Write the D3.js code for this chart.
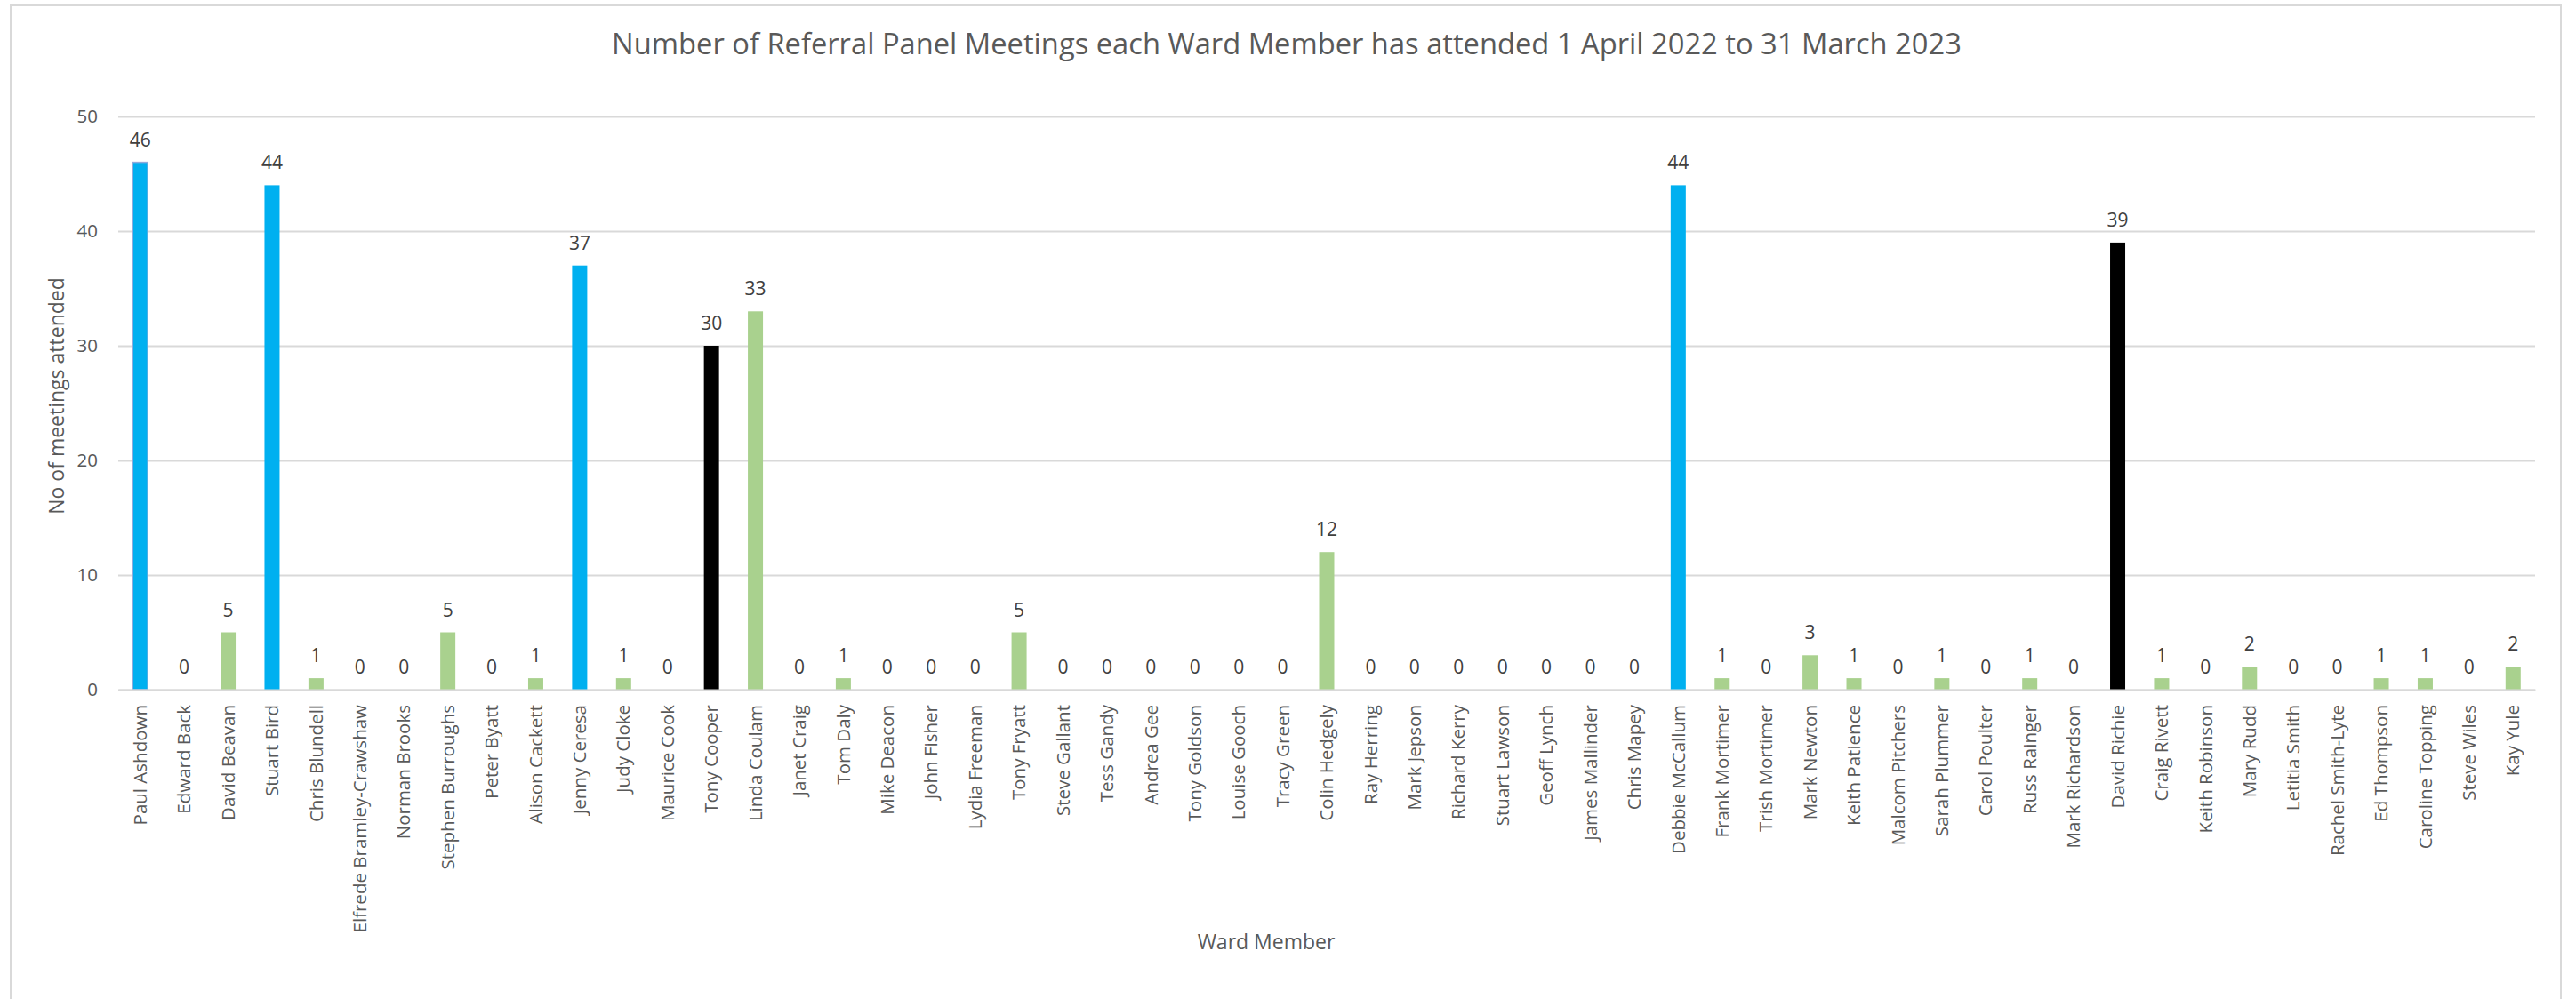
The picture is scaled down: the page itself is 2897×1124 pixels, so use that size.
<!DOCTYPE html>
<html>
<head>
<meta charset="utf-8">
<script src="https://cdn.jsdelivr.net/npm/d3@7"></script>
<style>
  body { margin: 0; background: #fff; }
  svg text { font-family: "Open Sans", "Noto Sans", sans-serif; }
</style>
</head>
<body>
<div class="chart"></div>
<script>
// --- Data ---
const members = [
    "Paul Ashdown", "Edward Back", "David Beavan", "Stuart Bird", "Chris Blundell",
    "Elfrede Bramley-Crawshaw", "Norman Brooks", "Stephen Burroughs", "Peter Byatt",
    "Alison Cackett", "Jenny Ceresa", "Judy Cloke", "Maurice Cook", "Tony Cooper",
    "Linda Coulam", "Janet Craig", "Tom Daly", "Mike Deacon", "John Fisher",
    "Lydia Freeman", "Tony Fryatt", "Steve Gallant", "Tess Gandy", "Andrea Gee",
    "Tony Goldson", "Louise Gooch", "Tracy Green", "Colin Hedgely", "Ray Herring",
    "Mark Jepson", "Richard Kerry", "Stuart Lawson", "Geoff Lynch", "James Mallinder",
    "Chris Mapey", "Debbie McCallum", "Frank Mortimer", "Trish Mortimer", "Mark Newton",
    "Keith Patience", "Malcom Pitchers", "Sarah Plummer", "Carol Poulter", "Russ Rainger",
    "Mark Richardson", "David Richie", "Craig Rivett", "Keith Robinson", "Mary Rudd",
    "Letitia Smith", "Rachel Smith-Lyte", "Ed Thompson", "Caroline Topping",
    "Steve Wiles", "Kay Yule"
];

const meetings = [
    46, 0, 5, 44, 1,
    0, 0, 5, 0,
    1, 37, 1, 0, 30,
    33, 0, 1, 0, 0,
    0, 5, 0, 0, 0,
    0, 0, 0, 12, 0,
    0, 0, 0, 0, 0,
    0, 44, 1, 0, 3,
    1, 0, 1, 0, 1,
    0, 39, 1, 0, 2,
    0, 0, 1, 1,
    0, 2
];

// which colour group each bar belongs to
const barGroup = [
    "blue", "green", "green", "blue", "green",
    "green", "green", "green", "green",
    "green", "blue", "green", "green", "black",
    "green", "green", "green", "green", "green",
    "green", "green", "green", "green", "green",
    "green", "green", "green", "green", "green",
    "green", "green", "green", "green", "green",
    "green", "blue", "green", "green", "green",
    "green", "green", "green", "green", "green",
    "green", "black", "green", "green", "green",
    "green", "green", "green", "green",
    "green", "green"
];

const yTicks = [0, 10, 20, 30, 40, 50];

const chartTitle = "Number of Referral Panel Meetings each Ward Member has attended 1 April 2022 to 31 March 2023";
const xTitle = "Ward Member";
const yTitle = "No of meetings attended";

const groupColors = { blue: "#00B0F0", green: "#A9D18E", black: "#000000" };

const drawChart = () => {
    // --- Dimensions ---
    const viewW = 2897;
    const viewH = 1124;
    const plot = { left: 133, right: 2851, top: 131, bottom: 776 };

    const data = members.map((name, i) => ({ name, value: meetings[i], group: barGroup[i] }));

    const svg = d3.select(".chart")
        .append("svg")
        .attr("width", viewW)
        .attr("height", viewH)
        .attr("viewBox", `0 0 ${viewW} ${viewH}`);

    // chart area border
    svg.append("rect")
        .attr("x", 12)
        .attr("y", 6)
        .attr("width", 2880 - 12)
        .attr("height", 1140)
        .attr("fill", "#fff")
        .attr("stroke", "#d9d9d9")
        .attr("stroke-width", 2);

    // Scales
    const x = d3.scaleBand()
        .domain(members)
        .range([plot.left, plot.right])
        .paddingInner(0.656)
        .paddingOuter(0.328);

    const y = d3.scaleLinear()
        .domain([0, 50])
        .range([plot.bottom, plot.top]);

    // Gridlines + y labels
    const yAxis = svg.append("g")
        .attr("transform", `translate(${plot.left},0)`)
        .call(d3.axisLeft(y)
            .tickValues(yTicks)
            .tickSize(-(plot.right - plot.left))
            .tickPadding(23));

    yAxis.select(".domain").remove();
    yAxis.selectAll(".tick line")
        .attr("stroke", "#d9d9d9")
        .attr("stroke-width", 2);
    yAxis.selectAll(".tick text")
        .attr("fill", "#595959")
        .style("font-size", "20.5px");

    // Bars
    svg.selectAll("rect.bar")
        .data(data)
        .enter()
        .append("rect")
        .attr("class", "bar")
        .attr("x", d => x(d.name))
        .attr("y", d => y(d.value))
        .attr("width", x.bandwidth())
        .attr("height", d => y(0) - y(d.value))
        .attr("fill", d => groupColors[d.group]);

    // first bar shows a faint outline in the original
    svg.selectAll("rect.bar")
        .filter((d, i) => i === 0)
        .attr("stroke", "#8FAADC")
        .attr("stroke-width", 1.5);

    // X axis
    const xAxis = svg.append("g")
        .attr("transform", `translate(0,${plot.bottom})`)
        .call(d3.axisBottom(x).tickSize(0).tickSizeOuter(0));

    xAxis.select(".domain")
        .attr("stroke", "#d9d9d9")
        .attr("stroke-width", 2);

    xAxis.selectAll(".tick text")
        .attr("transform", "rotate(-90)")
        .attr("text-anchor", "end")
        .attr("x", -17)
        .attr("y", 0)
        .attr("dy", "0.35em")
        .attr("fill", "#595959")
        .style("font-size", "20.5px");

    // Value labels
    svg.selectAll("text.value")
        .data(data)
        .enter()
        .append("text")
        .attr("class", "value")
        .attr("x", d => x(d.name) + x.bandwidth() / 2)
        .attr("y", d => y(d.value) - 18)
        .attr("text-anchor", "middle")
        .attr("fill", "#404040")
        .style("font-size", "21px")
        .text(d => d.value);

    // Title
    svg.append("text")
        .attr("x", 1447)
        .attr("y", 61)
        .attr("text-anchor", "middle")
        .attr("fill", "#595959")
        .style("font-size", "32.7px")
        .text(chartTitle);

    // Axis titles
    svg.append("text")
        .attr("x", 1424)
        .attr("y", 1068)
        .attr("text-anchor", "middle")
        .attr("fill", "#595959")
        .style("font-size", "23px")
        .text(xTitle);

    svg.append("text")
        .attr("transform", `translate(72,${(plot.top + plot.bottom) / 2 - 8}) rotate(-90)`)
        .attr("text-anchor", "middle")
        .attr("fill", "#595959")
        .style("font-size", "23px")
        .text(yTitle);
};

drawChart();
</script>
</body>
</html>
